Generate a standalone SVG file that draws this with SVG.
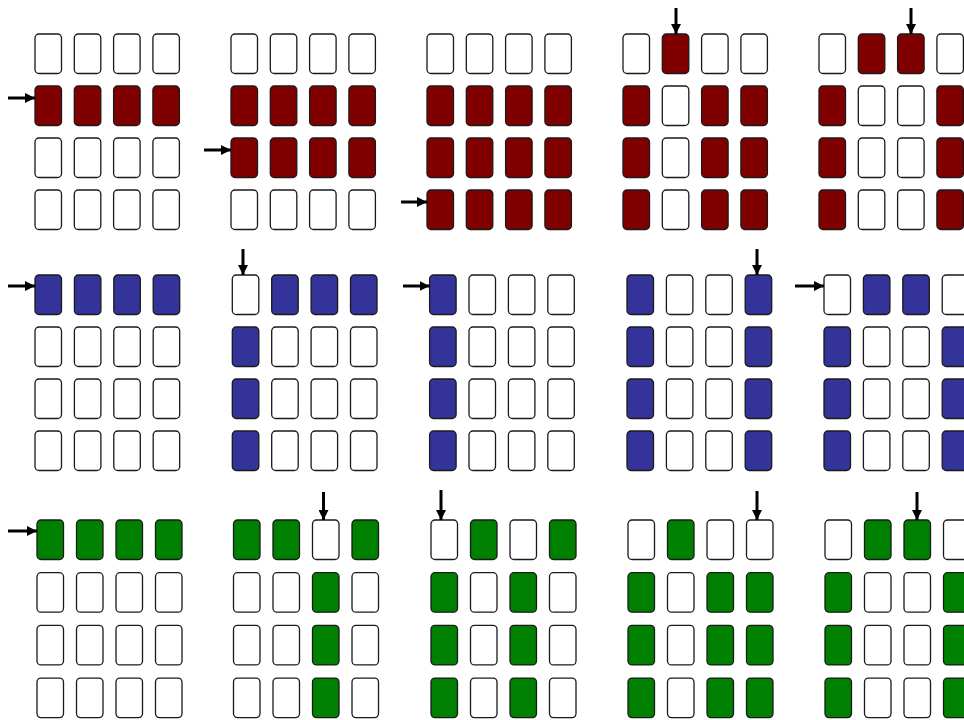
<svg xmlns="http://www.w3.org/2000/svg" width="964" height="720" viewBox="0 0 964 720">
<style>
.e,.r,.b,.g{stroke:#1a1a1a;stroke-width:1.3;}
.e{fill:#ffffff}.r{fill:#800000}.b{fill:#333399}.g{fill:#008000}
.a{stroke:#000;stroke-width:3;fill:none;marker-end:url(#ah)}
</style>
<defs>
<marker id="ah" markerUnits="userSpaceOnUse" viewBox="0 0 10 10" refX="10" refY="5" markerWidth="10" markerHeight="10" orient="auto"><path d="M0,0L10,5L0,10z" fill="#000"/></marker>
</defs>
<rect x="0" y="0" width="964" height="720" fill="#fff"/>
<!-- Row 1 (red) -->
<g id="r1g1" transform="translate(35,34)">
<rect class="e" x="0" y="0" width="26.5" height="39.5" rx="4"/><rect class="e" x="39.3" y="0" width="26.5" height="39.5" rx="4"/><rect class="e" x="78.6" y="0" width="26.5" height="39.5" rx="4"/><rect class="e" x="117.9" y="0" width="26.5" height="39.5" rx="4"/>
<rect class="r" x="0" y="52" width="26.5" height="39.5" rx="4"/><rect class="r" x="39.3" y="52" width="26.5" height="39.5" rx="4"/><rect class="r" x="78.6" y="52" width="26.5" height="39.5" rx="4"/><rect class="r" x="117.9" y="52" width="26.5" height="39.5" rx="4"/>
<rect class="e" x="0" y="104" width="26.5" height="39.5" rx="4"/><rect class="e" x="39.3" y="104" width="26.5" height="39.5" rx="4"/><rect class="e" x="78.6" y="104" width="26.5" height="39.5" rx="4"/><rect class="e" x="117.9" y="104" width="26.5" height="39.5" rx="4"/>
<rect class="e" x="0" y="156" width="26.5" height="39.5" rx="4"/><rect class="e" x="39.3" y="156" width="26.5" height="39.5" rx="4"/><rect class="e" x="78.6" y="156" width="26.5" height="39.5" rx="4"/><rect class="e" x="117.9" y="156" width="26.5" height="39.5" rx="4"/>
</g>
<g id="r1g2" transform="translate(231,34)">
<rect class="e" x="0" y="0" width="26.5" height="39.5" rx="4"/><rect class="e" x="39.3" y="0" width="26.5" height="39.5" rx="4"/><rect class="e" x="78.6" y="0" width="26.5" height="39.5" rx="4"/><rect class="e" x="117.9" y="0" width="26.5" height="39.5" rx="4"/>
<rect class="r" x="0" y="52" width="26.5" height="39.5" rx="4"/><rect class="r" x="39.3" y="52" width="26.5" height="39.5" rx="4"/><rect class="r" x="78.6" y="52" width="26.5" height="39.5" rx="4"/><rect class="r" x="117.9" y="52" width="26.5" height="39.5" rx="4"/>
<rect class="r" x="0" y="104" width="26.5" height="39.5" rx="4"/><rect class="r" x="39.3" y="104" width="26.5" height="39.5" rx="4"/><rect class="r" x="78.6" y="104" width="26.5" height="39.5" rx="4"/><rect class="r" x="117.9" y="104" width="26.5" height="39.5" rx="4"/>
<rect class="e" x="0" y="156" width="26.5" height="39.5" rx="4"/><rect class="e" x="39.3" y="156" width="26.5" height="39.5" rx="4"/><rect class="e" x="78.6" y="156" width="26.5" height="39.5" rx="4"/><rect class="e" x="117.9" y="156" width="26.5" height="39.5" rx="4"/>
</g>
<g id="r1g3" transform="translate(427,34)">
<rect class="e" x="0" y="0" width="26.5" height="39.5" rx="4"/><rect class="e" x="39.3" y="0" width="26.5" height="39.5" rx="4"/><rect class="e" x="78.6" y="0" width="26.5" height="39.5" rx="4"/><rect class="e" x="117.9" y="0" width="26.5" height="39.5" rx="4"/>
<rect class="r" x="0" y="52" width="26.5" height="39.5" rx="4"/><rect class="r" x="39.3" y="52" width="26.5" height="39.5" rx="4"/><rect class="r" x="78.6" y="52" width="26.5" height="39.5" rx="4"/><rect class="r" x="117.9" y="52" width="26.5" height="39.5" rx="4"/>
<rect class="r" x="0" y="104" width="26.5" height="39.5" rx="4"/><rect class="r" x="39.3" y="104" width="26.5" height="39.5" rx="4"/><rect class="r" x="78.6" y="104" width="26.5" height="39.5" rx="4"/><rect class="r" x="117.9" y="104" width="26.5" height="39.5" rx="4"/>
<rect class="r" x="0" y="156" width="26.5" height="39.5" rx="4"/><rect class="r" x="39.3" y="156" width="26.5" height="39.5" rx="4"/><rect class="r" x="78.6" y="156" width="26.5" height="39.5" rx="4"/><rect class="r" x="117.9" y="156" width="26.5" height="39.5" rx="4"/>
</g>
<g id="r1g4" transform="translate(623,34)">
<rect class="e" x="0" y="0" width="26.5" height="39.5" rx="4"/><rect class="r" x="39.3" y="0" width="26.5" height="39.5" rx="4"/><rect class="e" x="78.6" y="0" width="26.5" height="39.5" rx="4"/><rect class="e" x="117.9" y="0" width="26.5" height="39.5" rx="4"/>
<rect class="r" x="0" y="52" width="26.5" height="39.5" rx="4"/><rect class="e" x="39.3" y="52" width="26.5" height="39.5" rx="4"/><rect class="r" x="78.6" y="52" width="26.5" height="39.5" rx="4"/><rect class="r" x="117.9" y="52" width="26.5" height="39.5" rx="4"/>
<rect class="r" x="0" y="104" width="26.5" height="39.5" rx="4"/><rect class="e" x="39.3" y="104" width="26.5" height="39.5" rx="4"/><rect class="r" x="78.6" y="104" width="26.5" height="39.5" rx="4"/><rect class="r" x="117.9" y="104" width="26.5" height="39.5" rx="4"/>
<rect class="r" x="0" y="156" width="26.5" height="39.5" rx="4"/><rect class="e" x="39.3" y="156" width="26.5" height="39.5" rx="4"/><rect class="r" x="78.6" y="156" width="26.5" height="39.5" rx="4"/><rect class="r" x="117.9" y="156" width="26.5" height="39.5" rx="4"/>
</g>
<g id="r1g5" transform="translate(819,34)">
<rect class="e" x="0" y="0" width="26.5" height="39.5" rx="4"/><rect class="r" x="39.3" y="0" width="26.5" height="39.5" rx="4"/><rect class="r" x="78.6" y="0" width="26.5" height="39.5" rx="4"/><rect class="e" x="117.9" y="0" width="26.5" height="39.5" rx="4"/>
<rect class="r" x="0" y="52" width="26.5" height="39.5" rx="4"/><rect class="e" x="39.3" y="52" width="26.5" height="39.5" rx="4"/><rect class="e" x="78.6" y="52" width="26.5" height="39.5" rx="4"/><rect class="r" x="117.9" y="52" width="26.5" height="39.5" rx="4"/>
<rect class="r" x="0" y="104" width="26.5" height="39.5" rx="4"/><rect class="e" x="39.3" y="104" width="26.5" height="39.5" rx="4"/><rect class="e" x="78.6" y="104" width="26.5" height="39.5" rx="4"/><rect class="r" x="117.9" y="104" width="26.5" height="39.5" rx="4"/>
<rect class="r" x="0" y="156" width="26.5" height="39.5" rx="4"/><rect class="e" x="39.3" y="156" width="26.5" height="39.5" rx="4"/><rect class="e" x="78.6" y="156" width="26.5" height="39.5" rx="4"/><rect class="r" x="117.9" y="156" width="26.5" height="39.5" rx="4"/>
</g>
<!-- Row 2 (blue) -->
<g id="r2g1" transform="translate(35,275)">
<rect class="b" x="0" y="0" width="26.5" height="39.5" rx="4"/><rect class="b" x="39.4" y="0" width="26.5" height="39.5" rx="4"/><rect class="b" x="78.8" y="0" width="26.5" height="39.5" rx="4"/><rect class="b" x="118.2" y="0" width="26.5" height="39.5" rx="4"/>
<rect class="e" x="0" y="52" width="26.5" height="39.5" rx="4"/><rect class="e" x="39.4" y="52" width="26.5" height="39.5" rx="4"/><rect class="e" x="78.8" y="52" width="26.5" height="39.5" rx="4"/><rect class="e" x="118.2" y="52" width="26.5" height="39.5" rx="4"/>
<rect class="e" x="0" y="104" width="26.5" height="39.5" rx="4"/><rect class="e" x="39.4" y="104" width="26.5" height="39.5" rx="4"/><rect class="e" x="78.8" y="104" width="26.5" height="39.5" rx="4"/><rect class="e" x="118.2" y="104" width="26.5" height="39.5" rx="4"/>
<rect class="e" x="0" y="156" width="26.5" height="39.5" rx="4"/><rect class="e" x="39.4" y="156" width="26.5" height="39.5" rx="4"/><rect class="e" x="78.8" y="156" width="26.5" height="39.5" rx="4"/><rect class="e" x="118.2" y="156" width="26.5" height="39.5" rx="4"/>
</g>
<g id="r2g2" transform="translate(232.3,275)">
<rect class="e" x="0" y="0" width="26.5" height="39.5" rx="4"/><rect class="b" x="39.4" y="0" width="26.5" height="39.5" rx="4"/><rect class="b" x="78.8" y="0" width="26.5" height="39.5" rx="4"/><rect class="b" x="118.2" y="0" width="26.5" height="39.5" rx="4"/>
<rect class="b" x="0" y="52" width="26.5" height="39.5" rx="4"/><rect class="e" x="39.4" y="52" width="26.5" height="39.5" rx="4"/><rect class="e" x="78.8" y="52" width="26.5" height="39.5" rx="4"/><rect class="e" x="118.2" y="52" width="26.5" height="39.5" rx="4"/>
<rect class="b" x="0" y="104" width="26.5" height="39.5" rx="4"/><rect class="e" x="39.4" y="104" width="26.5" height="39.5" rx="4"/><rect class="e" x="78.8" y="104" width="26.5" height="39.5" rx="4"/><rect class="e" x="118.2" y="104" width="26.5" height="39.5" rx="4"/>
<rect class="b" x="0" y="156" width="26.5" height="39.5" rx="4"/><rect class="e" x="39.4" y="156" width="26.5" height="39.5" rx="4"/><rect class="e" x="78.8" y="156" width="26.5" height="39.5" rx="4"/><rect class="e" x="118.2" y="156" width="26.5" height="39.5" rx="4"/>
</g>
<g id="r2g3" transform="translate(429.6,275)">
<rect class="b" x="0" y="0" width="26.5" height="39.5" rx="4"/><rect class="e" x="39.4" y="0" width="26.5" height="39.5" rx="4"/><rect class="e" x="78.8" y="0" width="26.5" height="39.5" rx="4"/><rect class="e" x="118.2" y="0" width="26.5" height="39.5" rx="4"/>
<rect class="b" x="0" y="52" width="26.5" height="39.5" rx="4"/><rect class="e" x="39.4" y="52" width="26.5" height="39.5" rx="4"/><rect class="e" x="78.8" y="52" width="26.5" height="39.5" rx="4"/><rect class="e" x="118.2" y="52" width="26.5" height="39.5" rx="4"/>
<rect class="b" x="0" y="104" width="26.5" height="39.5" rx="4"/><rect class="e" x="39.4" y="104" width="26.5" height="39.5" rx="4"/><rect class="e" x="78.8" y="104" width="26.5" height="39.5" rx="4"/><rect class="e" x="118.2" y="104" width="26.5" height="39.5" rx="4"/>
<rect class="b" x="0" y="156" width="26.5" height="39.5" rx="4"/><rect class="e" x="39.4" y="156" width="26.5" height="39.5" rx="4"/><rect class="e" x="78.8" y="156" width="26.5" height="39.5" rx="4"/><rect class="e" x="118.2" y="156" width="26.5" height="39.5" rx="4"/>
</g>
<g id="r2g4" transform="translate(627,275)">
<rect class="b" x="0" y="0" width="26.5" height="39.5" rx="4"/><rect class="e" x="39.4" y="0" width="26.5" height="39.5" rx="4"/><rect class="e" x="78.8" y="0" width="26.5" height="39.5" rx="4"/><rect class="b" x="118.2" y="0" width="26.5" height="39.5" rx="4"/>
<rect class="b" x="0" y="52" width="26.5" height="39.5" rx="4"/><rect class="e" x="39.4" y="52" width="26.5" height="39.5" rx="4"/><rect class="e" x="78.8" y="52" width="26.5" height="39.5" rx="4"/><rect class="b" x="118.2" y="52" width="26.5" height="39.5" rx="4"/>
<rect class="b" x="0" y="104" width="26.5" height="39.5" rx="4"/><rect class="e" x="39.4" y="104" width="26.5" height="39.5" rx="4"/><rect class="e" x="78.8" y="104" width="26.5" height="39.5" rx="4"/><rect class="b" x="118.2" y="104" width="26.5" height="39.5" rx="4"/>
<rect class="b" x="0" y="156" width="26.5" height="39.5" rx="4"/><rect class="e" x="39.4" y="156" width="26.5" height="39.5" rx="4"/><rect class="e" x="78.8" y="156" width="26.5" height="39.5" rx="4"/><rect class="b" x="118.2" y="156" width="26.5" height="39.5" rx="4"/>
</g>
<g id="r2g5" transform="translate(824,275)">
<rect class="e" x="0" y="0" width="26.5" height="39.5" rx="4"/><rect class="b" x="39.4" y="0" width="26.5" height="39.5" rx="4"/><rect class="b" x="78.8" y="0" width="26.5" height="39.5" rx="4"/><rect class="e" x="118.2" y="0" width="26.5" height="39.5" rx="4"/>
<rect class="b" x="0" y="52" width="26.5" height="39.5" rx="4"/><rect class="e" x="39.4" y="52" width="26.5" height="39.5" rx="4"/><rect class="e" x="78.8" y="52" width="26.5" height="39.5" rx="4"/><rect class="b" x="118.2" y="52" width="26.5" height="39.5" rx="4"/>
<rect class="b" x="0" y="104" width="26.5" height="39.5" rx="4"/><rect class="e" x="39.4" y="104" width="26.5" height="39.5" rx="4"/><rect class="e" x="78.8" y="104" width="26.5" height="39.5" rx="4"/><rect class="b" x="118.2" y="104" width="26.5" height="39.5" rx="4"/>
<rect class="b" x="0" y="156" width="26.5" height="39.5" rx="4"/><rect class="e" x="39.4" y="156" width="26.5" height="39.5" rx="4"/><rect class="e" x="78.8" y="156" width="26.5" height="39.5" rx="4"/><rect class="b" x="118.2" y="156" width="26.5" height="39.5" rx="4"/>
</g>
<!-- Row 3 (green) -->
<g id="r3g1" transform="translate(37,520)">
<rect class="g" x="0" y="0" width="26.5" height="39.5" rx="4"/><rect class="g" x="39.5" y="0" width="26.5" height="39.5" rx="4"/><rect class="g" x="79" y="0" width="26.5" height="39.5" rx="4"/><rect class="g" x="118.5" y="0" width="26.5" height="39.5" rx="4"/>
<rect class="e" x="0" y="52.7" width="26.5" height="39.5" rx="4"/><rect class="e" x="39.5" y="52.7" width="26.5" height="39.5" rx="4"/><rect class="e" x="79" y="52.7" width="26.5" height="39.5" rx="4"/><rect class="e" x="118.5" y="52.7" width="26.5" height="39.5" rx="4"/>
<rect class="e" x="0" y="105.4" width="26.5" height="39.5" rx="4"/><rect class="e" x="39.5" y="105.4" width="26.5" height="39.5" rx="4"/><rect class="e" x="79" y="105.4" width="26.5" height="39.5" rx="4"/><rect class="e" x="118.5" y="105.4" width="26.5" height="39.5" rx="4"/>
<rect class="e" x="0" y="158.1" width="26.5" height="39.5" rx="4"/><rect class="e" x="39.5" y="158.1" width="26.5" height="39.5" rx="4"/><rect class="e" x="79" y="158.1" width="26.5" height="39.5" rx="4"/><rect class="e" x="118.5" y="158.1" width="26.5" height="39.5" rx="4"/>
</g>
<g id="r3g2" transform="translate(233.5,520)">
<rect class="g" x="0" y="0" width="26.5" height="39.5" rx="4"/><rect class="g" x="39.5" y="0" width="26.5" height="39.5" rx="4"/><rect class="e" x="79" y="0" width="26.5" height="39.5" rx="4"/><rect class="g" x="118.5" y="0" width="26.5" height="39.5" rx="4"/>
<rect class="e" x="0" y="52.7" width="26.5" height="39.5" rx="4"/><rect class="e" x="39.5" y="52.7" width="26.5" height="39.5" rx="4"/><rect class="g" x="79" y="52.7" width="26.5" height="39.5" rx="4"/><rect class="e" x="118.5" y="52.7" width="26.5" height="39.5" rx="4"/>
<rect class="e" x="0" y="105.4" width="26.5" height="39.5" rx="4"/><rect class="e" x="39.5" y="105.4" width="26.5" height="39.5" rx="4"/><rect class="g" x="79" y="105.4" width="26.5" height="39.5" rx="4"/><rect class="e" x="118.5" y="105.4" width="26.5" height="39.5" rx="4"/>
<rect class="e" x="0" y="158.1" width="26.5" height="39.5" rx="4"/><rect class="e" x="39.5" y="158.1" width="26.5" height="39.5" rx="4"/><rect class="g" x="79" y="158.1" width="26.5" height="39.5" rx="4"/><rect class="e" x="118.5" y="158.1" width="26.5" height="39.5" rx="4"/>
</g>
<g id="r3g3" transform="translate(431,520)">
<rect class="e" x="0" y="0" width="26.5" height="39.5" rx="4"/><rect class="g" x="39.5" y="0" width="26.5" height="39.5" rx="4"/><rect class="e" x="79" y="0" width="26.5" height="39.5" rx="4"/><rect class="g" x="118.5" y="0" width="26.5" height="39.5" rx="4"/>
<rect class="g" x="0" y="52.7" width="26.5" height="39.5" rx="4"/><rect class="e" x="39.5" y="52.7" width="26.5" height="39.5" rx="4"/><rect class="g" x="79" y="52.7" width="26.5" height="39.5" rx="4"/><rect class="e" x="118.5" y="52.7" width="26.5" height="39.5" rx="4"/>
<rect class="g" x="0" y="105.4" width="26.5" height="39.5" rx="4"/><rect class="e" x="39.5" y="105.4" width="26.5" height="39.5" rx="4"/><rect class="g" x="79" y="105.4" width="26.5" height="39.5" rx="4"/><rect class="e" x="118.5" y="105.4" width="26.5" height="39.5" rx="4"/>
<rect class="g" x="0" y="158.1" width="26.5" height="39.5" rx="4"/><rect class="e" x="39.5" y="158.1" width="26.5" height="39.5" rx="4"/><rect class="g" x="79" y="158.1" width="26.5" height="39.5" rx="4"/><rect class="e" x="118.5" y="158.1" width="26.5" height="39.5" rx="4"/>
</g>
<g id="r3g4" transform="translate(628,520)">
<rect class="e" x="0" y="0" width="26.5" height="39.5" rx="4"/><rect class="g" x="39.5" y="0" width="26.5" height="39.5" rx="4"/><rect class="e" x="79" y="0" width="26.5" height="39.5" rx="4"/><rect class="e" x="118.5" y="0" width="26.5" height="39.5" rx="4"/>
<rect class="g" x="0" y="52.7" width="26.5" height="39.5" rx="4"/><rect class="e" x="39.5" y="52.7" width="26.5" height="39.5" rx="4"/><rect class="g" x="79" y="52.7" width="26.5" height="39.5" rx="4"/><rect class="g" x="118.5" y="52.7" width="26.5" height="39.5" rx="4"/>
<rect class="g" x="0" y="105.4" width="26.5" height="39.5" rx="4"/><rect class="e" x="39.5" y="105.4" width="26.5" height="39.5" rx="4"/><rect class="g" x="79" y="105.4" width="26.5" height="39.5" rx="4"/><rect class="g" x="118.5" y="105.4" width="26.5" height="39.5" rx="4"/>
<rect class="g" x="0" y="158.1" width="26.5" height="39.5" rx="4"/><rect class="e" x="39.5" y="158.1" width="26.5" height="39.5" rx="4"/><rect class="g" x="79" y="158.1" width="26.5" height="39.5" rx="4"/><rect class="g" x="118.5" y="158.1" width="26.5" height="39.5" rx="4"/>
</g>
<g id="r3g5" transform="translate(825,520)">
<rect class="e" x="0" y="0" width="26.5" height="39.5" rx="4"/><rect class="g" x="39.5" y="0" width="26.5" height="39.5" rx="4"/><rect class="g" x="79" y="0" width="26.5" height="39.5" rx="4"/><rect class="e" x="118.5" y="0" width="26.5" height="39.5" rx="4"/>
<rect class="g" x="0" y="52.7" width="26.5" height="39.5" rx="4"/><rect class="e" x="39.5" y="52.7" width="26.5" height="39.5" rx="4"/><rect class="e" x="79" y="52.7" width="26.5" height="39.5" rx="4"/><rect class="g" x="118.5" y="52.7" width="26.5" height="39.5" rx="4"/>
<rect class="g" x="0" y="105.4" width="26.5" height="39.5" rx="4"/><rect class="e" x="39.5" y="105.4" width="26.5" height="39.5" rx="4"/><rect class="e" x="79" y="105.4" width="26.5" height="39.5" rx="4"/><rect class="g" x="118.5" y="105.4" width="26.5" height="39.5" rx="4"/>
<rect class="g" x="0" y="158.1" width="26.5" height="39.5" rx="4"/><rect class="e" x="39.5" y="158.1" width="26.5" height="39.5" rx="4"/><rect class="e" x="79" y="158.1" width="26.5" height="39.5" rx="4"/><rect class="g" x="118.5" y="158.1" width="26.5" height="39.5" rx="4"/>
</g>
<g id="connectors">
<path class="a" d="M8,98H35"/>
<path class="a" d="M204,150H231"/>
<path class="a" d="M401,202H427"/>
<path class="a" d="M676,8V34"/>
<path class="a" d="M911,8V34"/>
<path class="a" d="M8,286H35"/>
<path class="a" d="M243,249V275"/>
<path class="a" d="M403,286H429.6"/>
<path class="a" d="M757,249V275"/>
<path class="a" d="M795,286H824"/>
<path class="a" d="M8,531H37"/>
<path class="a" d="M323.5,492V520"/>
<path class="a" d="M441,490V520"/>
<path class="a" d="M757,491V520"/>
<path class="a" d="M917,492V520"/>
</g>
</svg>
